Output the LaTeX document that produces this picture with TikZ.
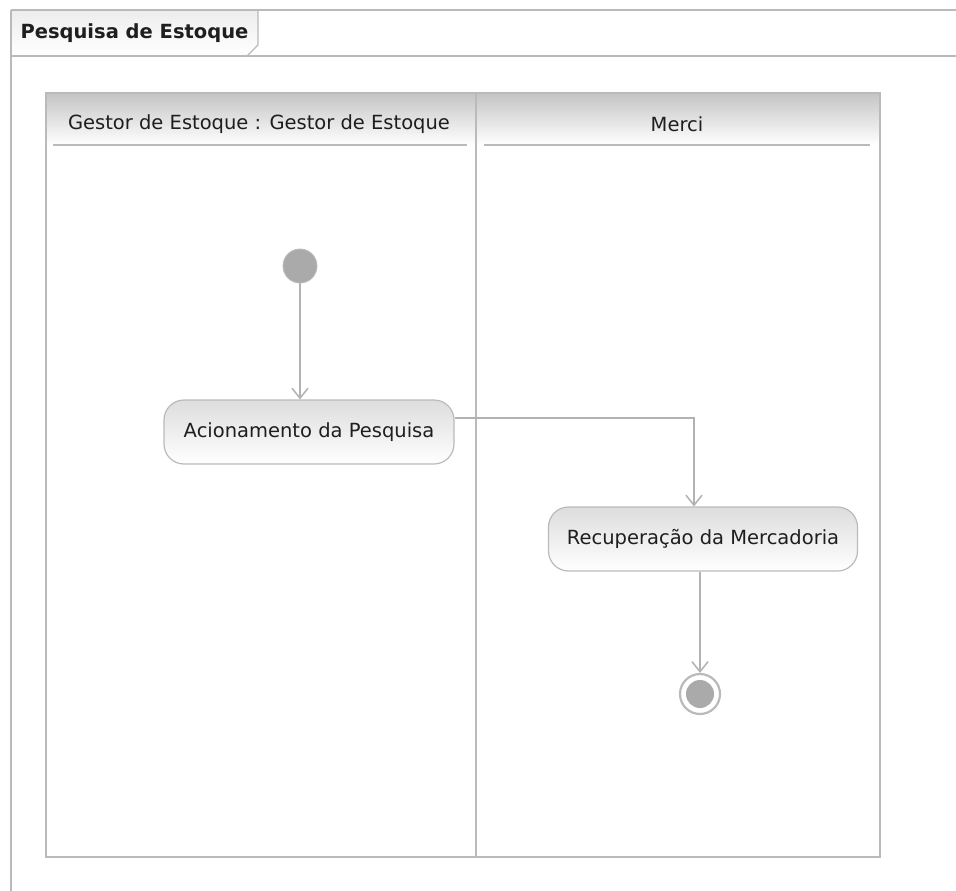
\documentclass[tikz,border=0pt]{standalone}
\usepackage{fontspec}
\setmainfont{DejaVu Sans}
\usetikzlibrary{arrows.meta,positioning,shapes.geometric}
\definecolor{frame}{HTML}{BABABA}
\definecolor{edge}{HTML}{B2B2B2}
\definecolor{head}{HTML}{C4C4C4}
\definecolor{dot}{HTML}{AAAAAA}
\definecolor{tabfill}{HTML}{EDEDED}
\definecolor{actfill}{HTML}{DDDDDD}
\definecolor{ink}{HTML}{1E1E1E}

\begin{document}
\begin{tikzpicture}[
  x=1pt, y=-1pt,
  font=\fontsize{19.5}{23}\selectfont,
  lane/.style={draw=frame, line width=1.6pt, minimum height=764pt, inner sep=0pt},
  headtext/.style={text=ink, anchor=center},
  action/.style={rounded corners=20pt, draw=frame, line width=1.2pt,
    top color=actfill, bottom color=white, minimum height=64pt, text=ink},
  start/.style={circle, fill=dot, draw=dot!80, line width=0.8pt, minimum size=34pt, inner sep=0pt},
  finish/.style={circle, draw=frame, line width=2.2pt, fill=white, minimum size=40pt, inner sep=0pt},
  flow/.style={-{Straight Barb[length=10pt,width=16pt]}, line width=1.5pt, draw=edge}
]
\useasboundingbox (0,0) rectangle (956,891);
\fill[white] (0,0) rectangle (956,891);

% diagram frame and title tab
\shade[top color=tabfill, bottom color=white] (11,10) -- (258,10) -- (258,45) -- (247,56) -- (11,56) -- cycle;
\draw[frame, line width=1.2pt] (258,10) -- (258,45) -- (247,56);
\draw[frame, line width=2.4pt] (11,10) -- (956,10);
\draw[frame, line width=1.6pt] (11,56) -- (956,56);
\draw[frame, line width=2.8pt] (11,10) -- (11,891);
\node[font=\bfseries\fontsize{19.5}{23}\selectfont, text=ink, anchor=west] (title) at (17,33) {Pesquisa de Estoque};

% swimlanes
\shade[top color=head, bottom color=white] (46,93) rectangle (880,145);
\node[lane, minimum width=430pt] (gestor) at (261,475) {};
\node[lane, minimum width=404pt] (merci) at (678,475) {};
\node[headtext] (gestorhead) at (259,124) {Gestor de Estoque : Gestor de Estoque};
\node[headtext] (mercihead) at (677,124) {Merci};
\draw[frame, line width=1.2pt] (53,145) -- (467,145);
\draw[frame, line width=1.2pt] (484,145) -- (870,145);

% activity nodes
\node[start] (init) at (300,266) {};
\node[action, minimum width=290pt] (acion) at (309,432) {Acionamento da Pesquisa};
\node[action, minimum width=309pt] (recup) at (703,539) {Recuperação da Mercadoria};
\node[finish] (final) at (700,694) {};
\node[circle, fill=dot, minimum size=28pt, inner sep=0pt] (finaldot) at (final) {};

\draw[flow] (init) -- (init |- acion.north);
\draw[flow] ([yshift=14pt]acion.east) -| ([xshift=-9pt]recup.north);
\draw[flow] ([xshift=-3pt]recup.south) -- ([xshift=-3pt]recup.south |- final.north);

\end{tikzpicture}
\end{document}
